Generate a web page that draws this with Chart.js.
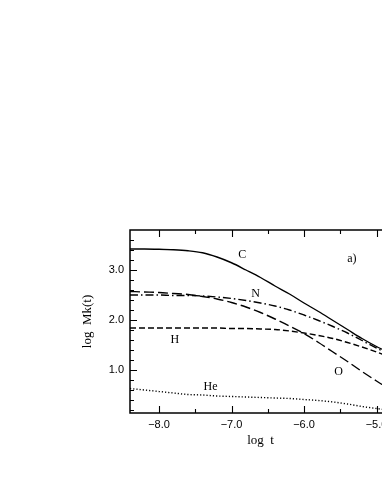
<!DOCTYPE html>
<html>
<head>
<meta charset="utf-8">
<script src="https://cdn.jsdelivr.net/npm/chart.js@4.4.1/dist/chart.umd.min.js"></script>
<style>
  html, body { margin: 0; padding: 0; background: #fff; overflow: hidden; }
  #wrap { position: absolute; left: 0; top: 0; width: 400px; height: 494px; }
</style>
</head>
<body>
<div id="wrap"><canvas id="massChart"></canvas></div>
<script>
// --- Data ---
const logT = [-8.4, -8.2, -8.0, -7.8, -7.6, -7.4, -7.2, -7.0, -6.8, -6.6, -6.4, -6.2, -6.0, -5.8, -5.6, -5.4, -5.2, -5.0, -4.8];
const carbon   = [3.42, 3.42, 3.415, 3.405, 3.385, 3.345, 3.26, 3.145, 3.00, 2.85, 2.68, 2.52, 2.34, 2.17, 1.99, 1.81, 1.63, 1.47, 1.33];
const nitrogen = [2.50, 2.50, 2.50, 2.49, 2.49, 2.48, 2.46, 2.43, 2.39, 2.34, 2.28, 2.20, 2.10, 1.99, 1.87, 1.74, 1.59, 1.44, 1.30];
const oxygen   = [2.57, 2.56, 2.55, 2.53, 2.51, 2.47, 2.42, 2.35, 2.26, 2.15, 2.02, 1.88, 1.73, 1.55, 1.36, 1.17, 0.97, 0.78, 0.60];
const hydrogen = [1.84, 1.84, 1.84, 1.84, 1.84, 1.84, 1.84, 1.83, 1.83, 1.82, 1.81, 1.78, 1.74, 1.69, 1.63, 1.55, 1.46, 1.36, 1.25];
const helium   = [0.63, 0.60, 0.57, 0.54, 0.51, 0.50, 0.48, 0.47, 0.46, 0.45, 0.44, 0.43, 0.41, 0.39, 0.36, 0.32, 0.27, 0.23, 0.19];

const xTickValues = [-8.0, -7.0, -6.0, -5.0];
const yTickValues = [1.0, 2.0, 3.0];

// curve labels, placed in data coordinates
const labelTexts = ['C', 'a)', 'N', 'H', 'O', 'He'];
const labelX = [-6.852, -5.339, -6.667, -7.78, -5.524, -7.289];
const labelY = [3.31, 3.23, 2.52, 1.60, 0.97, 0.67];

const SERIF = '"Liberation Serif", "Times New Roman", serif';
const SANS = '"Liberation Sans", Arial, sans-serif';

function toPoints(ys) {
    return ys.map((y, i) => ({ x: logT[i], y: y }));
}

function lineSet(label, ys, dash) {
    return {
        label: label,
        data: toPoints(ys),
        borderColor: '#000',
        borderWidth: 1.4,
        borderDash: dash,
        pointRadius: 0,
        fill: false,
        cubicInterpolationMode: 'monotone'
    };
}

// frame + inward ticks on all sides, then the curve labels
const framePlugin = {
    id: 'framePlugin',
    afterDraw(chart) {
        const ctx = chart.ctx;
        const area = chart.chartArea;
        const xs = chart.scales.x;
        const ys = chart.scales.y;
        ctx.save();
        ctx.strokeStyle = '#000';
        ctx.lineWidth = 1.5;
        ctx.strokeRect(area.left, area.top, area.right - area.left, area.bottom - area.top);

        ctx.lineWidth = 1.1;
        ctx.beginPath();
        for (let v = -8.5; v <= -4.5; v += 0.5) {
            if (v < xs.min || v > xs.max) continue;
            const px = Math.round(xs.getPixelForValue(v)) + 0.5;
            const len = Math.abs(v - Math.round(v)) < 1e-6 ? 7 : 4;
            ctx.moveTo(px, area.bottom); ctx.lineTo(px, area.bottom - len);
            ctx.moveTo(px, area.top); ctx.lineTo(px, area.top + len);
        }
        for (let k = 1; k <= 19; k++) {
            const v = k * 0.2;
            if (v < ys.min || v > ys.max) continue;
            const py = Math.round(ys.getPixelForValue(v)) + 0.5;
            const len = Math.abs(v - Math.round(v)) < 1e-6 ? 7 : 4;
            ctx.moveTo(area.left, py); ctx.lineTo(area.left + len, py);
            ctx.moveTo(area.right, py); ctx.lineTo(area.right - len, py);
        }
        ctx.stroke();

        ctx.fillStyle = '#000';
        ctx.font = '12px ' + SERIF;
        ctx.textAlign = 'center';
        ctx.textBaseline = 'middle';
        labelTexts.forEach((t, i) => {
            ctx.fillText(t, xs.getPixelForValue(labelX[i]), ys.getPixelForValue(labelY[i]));
        });
        ctx.restore();
    }
};

const chart = new Chart(document.getElementById('massChart'), {
    type: 'line',
    data: {
        datasets: [
            lineSet('C', carbon, []),
            lineSet('N', nitrogen, [8, 3, 1.5, 3]),
            lineSet('O', oxygen, [10, 4]),
            lineSet('H', hydrogen, [6, 3]),
            lineSet('He', helium, [1.2, 2])
        ]
    },
    options: {
        responsive: true,
        maintainAspectRatio: false,
        animation: false,
        layout: { padding: { top: 230, left: 80, right: 9, bottom: 46 } },
        plugins: {
            legend: { display: false },
            tooltip: { enabled: false }
        },
        scales: {
            x: {
                type: 'linear',
                min: -8.4,
                max: -4.8,
                grid: { display: false, drawTicks: false },
                border: { display: false },
                afterBuildTicks: (scale) => {
                    scale.ticks = xTickValues.map(v => ({ value: v }));
                },
                afterFit: (scale) => { scale.height = 35; },
                ticks: {
                    color: '#000',
                    padding: 5,
                    maxRotation: 0,
                    font: { family: SANS, size: 11 },
                    callback: (v) => '\u2212' + Math.abs(v).toFixed(1)
                },
                title: {
                    display: true,
                    text: 'log  t',
                    color: '#000',
                    padding: 0,
                    font: { family: SERIF, size: 13 }
                }
            },
            y: {
                type: 'linear',
                min: 0.14,
                max: 3.8,
                grid: { display: false, drawTicks: false },
                border: { display: false },
                afterBuildTicks: (scale) => {
                    scale.ticks = yTickValues.map(v => ({ value: v }));
                },
                afterFit: (scale) => { scale.width = 50; },
                ticks: {
                    color: '#000',
                    padding: 6,
                    font: { family: SANS, size: 11 },
                    callback: (v) => v.toFixed(1)
                },
                title: {
                    display: true,
                    text: 'log  Mk(t)',
                    color: '#000',
                    padding: 0,
                    font: { family: SERIF, size: 13 }
                }
            }
        }
    },
    plugins: [framePlugin]
});
</script>
</body>
</html>
